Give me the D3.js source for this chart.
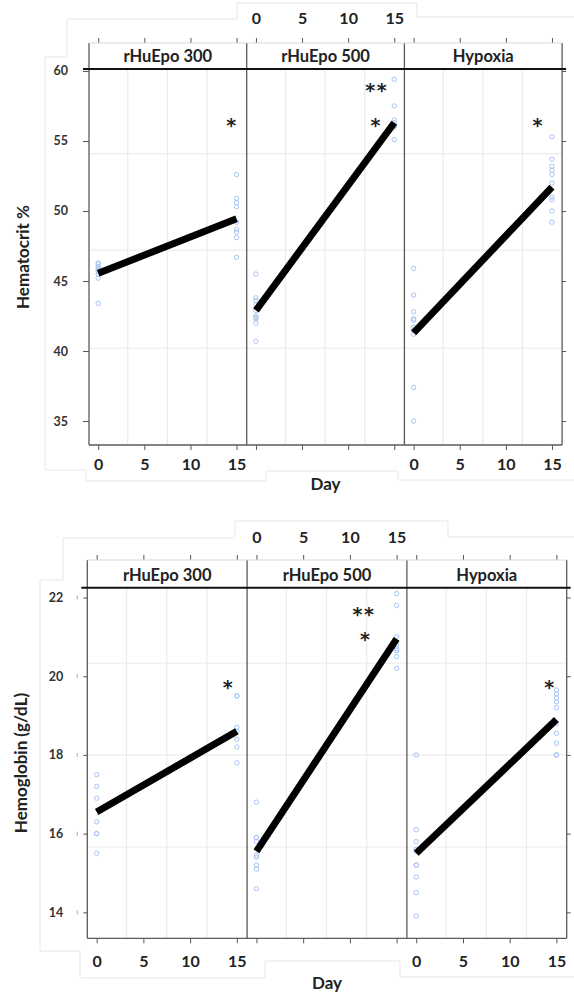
<!DOCTYPE html>
<html>
<head>
<meta charset="utf-8">
<script src="https://cdn.jsdelivr.net/npm/d3@7/dist/d3.min.js"></script>
<style>
  html, body { margin: 0; padding: 0; background: #fff; }
  svg { display: block; font-family: Lato, "Open Sans", sans-serif; }
</style>
</head>
<body>
<svg id="chart" width="574" height="994"></svg>
<script>
// Panels, shared day axis and grid positions
const panels = ["rHuEpo 300", "rHuEpo 500", "Hypoxia"];
const dayTicks = [0, 5, 10, 15];
const fitDays = [0, 15];
const gridDays = [3.2, 7.5, 11.8];

// Hematocrit (%)
const hctTicks = [35, 40, 45, 50, 55, 60];
const hctGrid = [54.1, 47.2, 40.2];
const hctDay0 = [
  [46.3, 46.2, 46.0, 45.9, 45.8, 45.7, 45.5, 45.2, 43.4],
  [45.5, 43.8, 43.6, 43.3, 42.9, 42.5, 42.4, 42.3, 42.0, 40.7],
  [45.9, 44.0, 42.8, 42.3, 42.2, 41.7, 41.5, 41.2, 37.4, 35.0]
];
const hctDay15 = [
  [52.6, 50.9, 50.6, 50.3, 49.2, 48.7, 48.5, 48.1, 46.7],
  [59.4, 57.5, 56.5, 56.3, 56.1, 56.0, 55.1],
  [55.3, 53.7, 53.2, 52.9, 52.6, 52.0, 51.0, 50.8, 50.0, 49.2]
];
const hctFitStart = [45.55, 42.9, 41.3];
const hctFitEnd = [49.45, 56.3, 51.7];
const hctStarPanel = [0, 1, 1, 2];
const hctStarDay = [14.5, 13.1, 13.05, 13.5];
const hctStarValue = [56.4, 58.9, 56.4, 56.4];
const hctStarText = ["*", "**", "*", "*"];

// Hemoglobin (g/dL)
const hgbTicks = [14, 16, 18, 20, 22];
const hgbGrid = [20.33, 18.0, 15.66];
const hgbDay0 = [
  [17.5, 17.2, 16.9, 16.3, 16.0, 16.0, 15.5],
  [16.8, 15.9, 15.9, 15.8, 15.45, 15.4, 15.2, 15.1, 14.6],
  [18.0, 16.1, 15.8, 15.6, 15.55, 15.2, 15.2, 14.9, 14.5, 13.9]
];
const hgbDay15 = [
  [19.5, 19.5, 18.7, 18.6, 18.4, 18.2, 17.8],
  [22.1, 21.8, 21.0, 20.8, 20.7, 20.65, 20.5, 20.2],
  [19.65, 19.55, 19.45, 19.35, 19.2, 18.8, 18.55, 18.3, 18.0, 18.0]
];
const hgbFitStart = [16.55, 15.55, 15.5];
const hgbFitEnd = [18.6, 20.95, 18.9];
const hgbStarPanel = [0, 1, 1, 2];
const hgbStarDay = [14.1, 11.5, 11.7, 14.3];
const hgbStarValue = [19.84, 21.69, 21.05, 19.84];
const hgbStarText = ["*", "**", "*", "*"];

const svg = d3.select("#chart");

function drawTrellis(cfg) {
  const g = svg.append("g");
  const stripBottom = cfg.stripTop + cfg.stripH;
  const right = cfg.left + cfg.panelW * panels.length;

  // faint page outline around the figure
  g.append("path")
    .attr("d", d3.line()(cfg.outline))
    .attr("fill", "none").attr("stroke", "#e6e6e6").attr("stroke-width", 1);

  const y = d3.scaleLinear().domain(cfg.yDomain).range([cfg.bottom, stripBottom]);

  panels.forEach((name, i) => {
    const x0 = cfg.left + i * cfg.panelW;
    const x = d3.scaleLinear().domain([-1, 16.1]).range([x0, x0 + cfg.panelW]);
    const p = g.append("g");

    // grid
    p.selectAll(".vg").data(gridDays).join("line")
      .attr("x1", d => x(d)).attr("x2", d => x(d))
      .attr("y1", stripBottom).attr("y2", cfg.bottom)
      .attr("stroke", "#ebebeb").attr("stroke-width", 1.2);
    p.selectAll(".hg").data(cfg.grid).join("line")
      .attr("x1", x0).attr("x2", x0 + cfg.panelW)
      .attr("y1", d => y(d)).attr("y2", d => y(d))
      .attr("stroke", "#ebebeb").attr("stroke-width", 1.2);

    // observations
    const pts = cfg.day0[i].map(v => [0, v]).concat(cfg.day15[i].map(v => [15, v]));
    p.selectAll("circle").data(pts).join("circle")
      .attr("cx", d => x(d[0])).attr("cy", d => y(d[1]))
      .attr("r", 2.2).attr("fill", "none")
      .attr("stroke", "#a9c4f3").attr("stroke-width", 1);

    // fitted line
    p.append("line")
      .attr("x1", x(fitDays[0])).attr("y1", y(cfg.fitStart[i]))
      .attr("x2", x(fitDays[1])).attr("y2", y(cfg.fitEnd[i]))
      .attr("stroke", "#000").attr("stroke-width", 7);

    // significance marks
    cfg.starPanel.forEach((sp, k) => {
      if (sp !== i) return;
      p.append("text")
        .attr("x", x(cfg.starDay[k])).attr("y", y(cfg.starValue[k]) + 11)
        .attr("text-anchor", "middle")
        .attr("font-family", "'DejaVu Sans', sans-serif")
        .attr("font-size", 19).attr("font-weight", 700).attr("fill", "#222")
        .attr("letter-spacing", 1.5)
        .text(cfg.starText[k]);
    });

    // strip label
    p.append("text")
      .attr("x", x0 + cfg.panelW / 2).attr("y", stripBottom - 7)
      .attr("text-anchor", "middle")
      .attr("font-size", 16.5).attr("font-weight", 700).attr("fill", "#222")
      .text(name);

    // bottom day axis
    const bx = p.append("g").attr("transform", `translate(0,${cfg.bottom})`)
      .call(d3.axisBottom(x).tickValues(dayTicks).tickSize(5).tickSizeOuter(0)
        .tickPadding(cfg.bottomPad)
        .tickFormat(i === 1 ? () => "" : d3.format("d")));
    // top day axis
    const tx = p.append("g").attr("transform", `translate(0,${cfg.stripTop})`)
      .call(d3.axisTop(x).tickValues(dayTicks).tickSize(5).tickSizeOuter(0)
        .tickPadding(cfg.topPad)
        .tickFormat(i === 1 ? d3.format("d") : () => ""));
    [bx, tx].forEach(a => {
      a.select(".domain").remove();
      a.selectAll("line").attr("stroke", "#555");
      a.selectAll("text").attr("font-size", 16).attr("font-weight", 700)
        .attr("fill", "#222").attr("font-family", "Lato, sans-serif");
    });

    // panel separators
    p.append("line").attr("x1", x0).attr("x2", x0)
      .attr("y1", cfg.stripTop).attr("y2", cfg.bottom)
      .attr("stroke", "#5a5a5a").attr("stroke-width", 1.3);
  });

  // outer frame
  g.append("line").attr("x1", right).attr("x2", right)
    .attr("y1", cfg.stripTop).attr("y2", cfg.bottom)
    .attr("stroke", "#5a5a5a").attr("stroke-width", 1.3);
  g.append("line").attr("x1", cfg.left).attr("x2", right)
    .attr("y1", cfg.bottom).attr("y2", cfg.bottom)
    .attr("stroke", "#5a5a5a").attr("stroke-width", 1.3);
  g.append("line").attr("x1", cfg.left).attr("x2", right)
    .attr("y1", cfg.stripTop).attr("y2", cfg.stripTop)
    .attr("stroke", "#d8d8d8").attr("stroke-width", 1);
  g.append("line").attr("x1", cfg.left - 6).attr("x2", right + 4)
    .attr("y1", stripBottom).attr("y2", stripBottom)
    .attr("stroke", "#111").attr("stroke-width", 2);

  // value axes
  const ly = g.append("g").attr("transform", `translate(${cfg.left},0)`)
    .call(d3.axisLeft(y).tickValues(cfg.yTicks).tickSize(cfg.leftTick).tickSizeOuter(0)
      .tickPadding(cfg.leftPad).tickFormat(d3.format("d")));
  ly.select(".domain").remove();
  ly.selectAll("line").attr("stroke", "#555");
  ly.selectAll("text").attr("font-size", 12.5).attr("font-weight", 700)
    .attr("fill", "#333").attr("font-family", "Lato, sans-serif");
  const ry = g.append("g").attr("transform", `translate(${right},0)`)
    .call(d3.axisRight(y).tickValues(cfg.yTicks).tickSize(4).tickSizeOuter(0)
      .tickFormat(() => ""));
  ry.select(".domain").remove();
  ry.selectAll("line").attr("stroke", "#555");

  if (cfg.blueMarks) {
    g.selectAll(".bm").data(cfg.yTicks).join("line")
      .attr("x1", cfg.left - 10).attr("x2", cfg.left - 10)
      .attr("y1", d => y(d) - 2).attr("y2", d => y(d) + 2)
      .attr("stroke", "#9dbbe8").attr("stroke-width", 1.2);
  }

  // axis titles
  g.append("text")
    .attr("transform", `translate(${cfg.yTitleX},${(stripBottom + cfg.bottom) / 2}) rotate(-90)`)
    .attr("text-anchor", "middle").attr("dy", "0.35em")
    .attr("font-size", 17).attr("font-weight", 700).attr("fill", "#222")
    .text(cfg.yTitle);
  g.append("text")
    .attr("x", cfg.left + cfg.panelW * 1.5).attr("y", cfg.dayY)
    .attr("text-anchor", "middle")
    .attr("font-size", 17).attr("font-weight", 700).attr("fill", "#222")
    .text("Day");
}

drawTrellis({
  left: 89, panelW: 157.7, stripTop: 43, stripH: 26, bottom: 445,
  yDomain: [33.29, 60.14], yTicks: hctTicks, grid: hctGrid,
  day0: hctDay0, day15: hctDay15, fitStart: hctFitStart, fitEnd: hctFitEnd,
  starPanel: hctStarPanel, starDay: hctStarDay, starValue: hctStarValue, starText: hctStarText,
  bottomPad: 9, topPad: 14, leftTick: 6, leftPad: 15,
  yTitle: "Hematocrit %", yTitleX: 23, dayY: 490, blueMarks: false,
  outline: [[574, 17], [417, 17], [417, 3], [237, 3], [237, 19], [67, 19], [67, 57], [45, 57],
            [45, 470], [86, 470], [86, 481], [266, 481], [266, 471], [398, 471], [398, 480], [574, 480]]
});

drawTrellis({
  left: 87.3, panelW: 159.8, stripTop: 560, stripH: 27.7, bottom: 938.3,
  yDomain: [13.34, 22.25], yTicks: hgbTicks, grid: hgbGrid,
  day0: hgbDay0, day15: hgbDay15, fitStart: hgbFitStart, fitEnd: hgbFitEnd,
  starPanel: hgbStarPanel, starDay: hgbStarDay, starValue: hgbStarValue, starText: hgbStarText,
  bottomPad: 12, topPad: 12, leftTick: 4, leftPad: 20,
  yTitle: "Hemoglobin (g/dL)", yTitleX: 21, dayY: 989, blueMarks: true,
  outline: [[574, 537], [448, 537], [448, 521], [235, 521], [235, 538], [63, 538], [63, 580], [40, 580],
            [40, 951], [80, 951], [80, 978], [265, 978], [265, 961], [400, 961], [400, 977], [574, 977]]
});
</script>
</body>
</html>
